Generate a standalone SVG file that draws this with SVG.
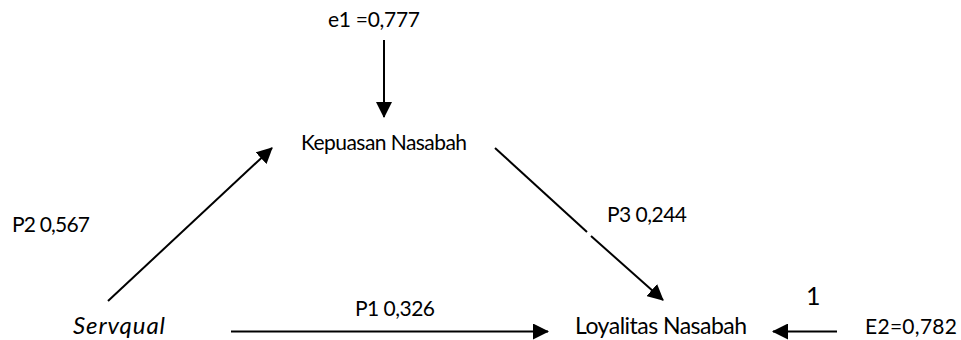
<svg xmlns="http://www.w3.org/2000/svg" width="961" height="340" viewBox="0 0 961 340">
<style>
text{font-family:Lato,"Open Sans","Liberation Sans",sans-serif;font-size:21px;fill:#000}
.big{font-size:23px}
.sq{font-size:24px;font-style:italic}
.one{font-size:25px}
.c{stroke:#000;stroke-width:2;fill:none}
</style>
<defs>
<marker id="ah" markerWidth="8" markerHeight="8" refX="7.5" refY="4" orient="auto" markerUnits="strokeWidth"><path d="M0,0 L8,4 L0,8 Z" fill="#000"/></marker>
</defs>
<rect width="961" height="340" fill="#fff"/>
<g id="connectors">
<line class="c" x1="384" y1="40" x2="384" y2="117" marker-end="url(#ah)"/>
<line class="c" x1="108" y1="301" x2="272" y2="148" marker-end="url(#ah)"/>
<line class="c" x1="495" y1="148" x2="587" y2="232"/>
<line class="c" x1="591" y1="236" x2="663" y2="300" marker-end="url(#ah)"/>
<line class="c" x1="231" y1="331.5" x2="548" y2="331.5" marker-end="url(#ah)"/>
<line class="c" x1="837" y1="331.5" x2="773" y2="331.5" marker-end="url(#ah)"/>
</g>
<g id="e1"><text x="328" y="27" textLength="92">e1 =0,777</text></g>
<g id="kepuasan"><text x="301" y="150" textLength="166">Kepuasan Nasabah</text></g>
<g id="servqual"><text x="73" y="334" class="sq" textLength="92">Servqual</text></g>
<g id="loyalitas"><text x="575" y="334" class="big" textLength="172">Loyalitas Nasabah</text></g>
<g id="e2"><text x="865" y="334" textLength="92">E2=0,782</text></g>
<g id="labels">
<text x="12" y="232" textLength="78">P2 0,567</text>
<text x="607" y="222" textLength="80">P3 0,244</text>
<text x="355" y="316" textLength="80">P1 0,326</text>
<text x="806" y="305" class="one">1</text>
</g>
</svg>
